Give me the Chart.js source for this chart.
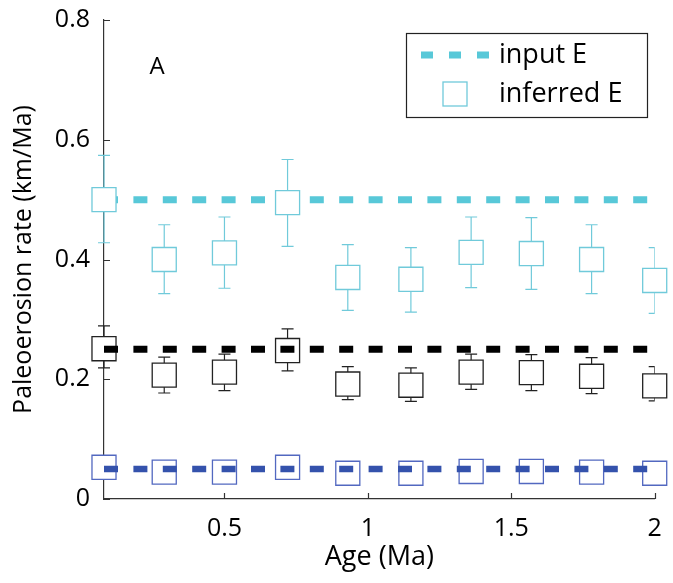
<!DOCTYPE html>
<html>
<head>
<meta charset="utf-8">
<script src="https://cdn.jsdelivr.net/npm/chart.js@4.4.0/dist/chart.umd.min.js"></script>
<style>
  html, body { margin: 0; padding: 0; background: #fff; }
  #wrap { width: 673px; height: 583px; }
</style>
</head>
<body>
<div id="wrap"><canvas id="myChart"></canvas></div>
<script>
// ages of the inferred points (Ma)
const ages = [0.08, 0.29, 0.50, 0.72, 0.93, 1.15, 1.36, 1.57, 1.78, 2.00];
const lineAges = [0.08, 2.00];

// input erosion rates (km/Ma)
const inputHigh = [0.5, 0.5];
const inputMid = [0.25, 0.25];
const inputLow = [0.05, 0.05];

// inferred E, high case
const inferredHigh = [0.500, 0.400, 0.411, 0.495, 0.370, 0.367, 0.412, 0.410, 0.400, 0.365];
const inferredHighLo = [0.428, 0.343, 0.352, 0.422, 0.315, 0.312, 0.353, 0.350, 0.343, 0.310];
const inferredHighHi = [0.574, 0.458, 0.471, 0.567, 0.425, 0.420, 0.471, 0.470, 0.458, 0.420];

// inferred E, middle case
const inferredMid = [0.251, 0.207, 0.212, 0.248, 0.192, 0.190, 0.212, 0.211, 0.205, 0.189];
const inferredMidLo = [0.219, 0.177, 0.181, 0.214, 0.166, 0.163, 0.183, 0.181, 0.176, 0.164];
const inferredMidHi = [0.289, 0.237, 0.242, 0.284, 0.221, 0.219, 0.242, 0.241, 0.236, 0.221];

// inferred E, low case
const inferredLow = [0.053, 0.045, 0.045, 0.053, 0.043, 0.043, 0.046, 0.046, 0.045, 0.043];

const xTicks = [0.5, 1, 1.5, 2];
const yTicks = [0, 0.2, 0.4, 0.6, 0.8];

const cyanLine = 'rgb(88,200,216)';
const cyanBox = 'rgb(112,202,218)';
const blueLine = 'rgb(52,82,172)';
const blueBox = 'rgb(82,104,192)';
const FONT = "'Open Sans', 'Noto Sans', sans-serif";

function pts(xs, ys) {
  return xs.map((x, i) => ({x: x, y: ys[i]}));
}

function lineSet(ys, color, width, order) {
  return {
    type: 'line', data: pts(lineAges, ys), showLine: true,
    borderColor: color, borderWidth: width, borderDash: [14, 15.4], borderCapStyle: 'butt',
    pointRadius: 0, order: order, clip: false
  };
}

function boxSet(ys, color, order) {
  return {
    data: pts(ages, ys), pointStyle: 'rect', pointRadius: 17, pointHoverRadius: 17,
    backgroundColor: '#fff', borderColor: color, borderWidth: 1.3, order: order, clip: false
  };
}

function noPad(s) {
  s.paddingTop = 0; s.paddingBottom = 0; s.paddingLeft = 0; s.paddingRight = 0;
}

// error bars drawn under the boxes
const errorBars = {
  id: 'errorBars',
  beforeDatasetsDraw(chart) {
    const ctx = chart.ctx, xs = chart.scales.x, ys = chart.scales.y, a = chart.chartArea;
    const groups = [[inferredHighLo, inferredHighHi, cyanBox], [inferredMidLo, inferredMidHi, '#222']];
    ctx.save();
    ctx.beginPath();
    ctx.rect(0, 0, a.right, chart.height);
    ctx.clip();
    ctx.lineWidth = 1.2;
    groups.forEach(g => {
      ctx.strokeStyle = g[2];
      ages.forEach((age, i) => {
        const px = xs.getPixelForValue(age);
        const lo = ys.getPixelForValue(g[0][i]);
        const hi = ys.getPixelForValue(g[1][i]);
        ctx.beginPath();
        ctx.moveTo(px, lo); ctx.lineTo(px, hi);
        ctx.moveTo(px - 6, lo); ctx.lineTo(px + 6, lo);
        ctx.moveTo(px - 6, hi); ctx.lineTo(px + 6, hi);
        ctx.stroke();
      });
    });
    ctx.restore();
  }
};

// inward ticks, panel letter and legend
const extras = {
  id: 'extras',
  afterDraw(chart) {
    const ctx = chart.ctx, xs = chart.scales.x, ys = chart.scales.y, a = chart.chartArea;
    ctx.save();
    ctx.strokeStyle = '#333';
    ctx.lineWidth = 1.2;
    ctx.beginPath();
    xTicks.forEach(v => {
      const px = Math.round(xs.getPixelForValue(v)) + 0.5;
      ctx.moveTo(px, a.bottom); ctx.lineTo(px, a.bottom - 6);
    });
    yTicks.forEach(v => {
      const py = Math.round(ys.getPixelForValue(v)) + 0.5;
      ctx.moveTo(a.left, py); ctx.lineTo(a.left + 6, py);
    });
    ctx.stroke();

    ctx.fillStyle = '#000';
    ctx.font = '24px ' + FONT;
    ctx.textAlign = 'center';
    ctx.textBaseline = 'middle';
    ctx.fillText('A', 157, 67);

    // legend
    ctx.strokeStyle = '#222';
    ctx.lineWidth = 1.2;
    ctx.strokeRect(406.5, 33.5, 241, 84);
    ctx.strokeStyle = cyanLine;
    ctx.lineWidth = 7;
    ctx.setLineDash([12, 16]);
    ctx.beginPath();
    ctx.moveTo(421, 55); ctx.lineTo(493, 55);
    ctx.stroke();
    ctx.setLineDash([]);
    ctx.strokeStyle = cyanBox;
    ctx.lineWidth = 1.3;
    ctx.strokeRect(443, 82, 24, 24);
    ctx.fillStyle = '#000';
    ctx.font = '27px ' + FONT;
    ctx.textAlign = 'left';
    ctx.fillText('input E', 499, 55);
    ctx.fillText('inferred E', 499, 94);
    ctx.restore();
  }
};

const ctx = document.getElementById('myChart');

const myChart = new Chart(ctx, {
  type: 'scatter',
  data: {
    datasets: [
      lineSet(inputHigh, cyanLine, 7, 6),
      boxSet(inferredHigh, cyanBox, 5),
      boxSet(inferredMid, '#222', 4),
      lineSet(inputMid, '#000', 7, 3),
      boxSet(inferredLow, blueBox, 2),
      lineSet(inputLow, blueLine, 6.5, 1)
    ]
  },
  plugins: [errorBars, extras],
  options: {
    responsive: true,
    maintainAspectRatio: false,
    animation: false,
    layout: { padding: { top: 20, right: 13, left: 0, bottom: 0 } },
    plugins: { legend: { display: false }, tooltip: { enabled: false } },
    scales: {
      x: {
        type: 'linear', min: 0.08, max: 2.0,
        afterBuildTicks: s => { s.ticks = xTicks.map(v => ({value: v})); },
        afterFit: s => { s.height = 84; noPad(s); },
        grid: { drawOnChartArea: false, drawTicks: false },
        border: { display: true, color: '#333', width: 1.2 },
        ticks: { color: '#000', padding: 15, font: { family: FONT, size: 25 }, callback: v => String(v) },
        title: { display: true, text: 'Age (Ma)', color: '#000', font: { family: FONT, size: 27 }, padding: { top: 0, bottom: 9 } }
      },
      y: {
        type: 'linear', min: 0, max: 0.8,
        afterBuildTicks: s => { s.ticks = yTicks.map(v => ({value: v})); },
        afterFit: s => { s.width = 104; noPad(s); },
        grid: { drawOnChartArea: false, drawTicks: false },
        border: { display: true, color: '#333', width: 1.2 },
        ticks: { color: '#000', padding: 14, font: { family: FONT, size: 25 }, callback: v => String(v) },
        title: { display: true, text: 'Paleoerosion rate (km/Ma)', color: '#000', font: { family: FONT, size: 25 }, padding: { top: 9, bottom: 0 } }
      }
    }
  }
});
</script>
</body>
</html>
